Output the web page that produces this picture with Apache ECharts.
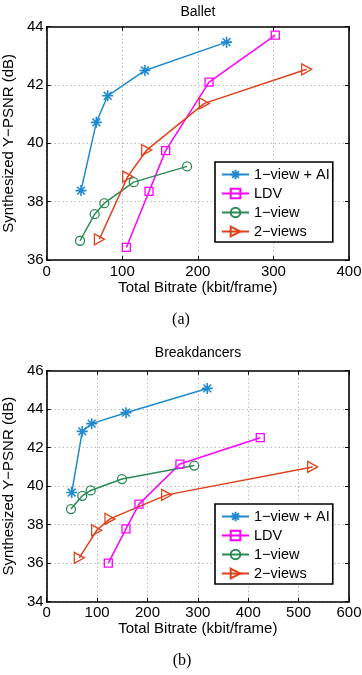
<!DOCTYPE html>
<html>
<head>
<meta charset="utf-8">
<script src="https://cdn.jsdelivr.net/npm/echarts@6/dist/echarts.min.js"></script>
<style>
html,body{margin:0;padding:0;background:#fff;}
#c{width:362px;height:675px;}
</style>
</head>
<body>
<div id="c"></div>
<script>
// ---- Data ----
const seriesNames = ['1\u2212view + AI', 'LDV', '1\u2212view', '2\u2212views'];

// Ballet: [bitrate, PSNR]
const balletAI    = [[45.4,38.38],[65.7,40.72],[80.7,41.63],[130,42.5],[238,43.47]];
const balletLDV   = [[105.4,36.43],[135.4,38.35],[157.4,39.75],[214.8,42.1],[302.5,43.71]];
const ballet1v    = [[44.1,36.66],[63.5,37.57],[76.3,37.95],[115.1,38.67],[185.7,39.21]];
const ballet2v    = [[69.7,36.71],[107.2,38.86],[132.3,39.77],[208.6,41.37],[344,42.54]];

// Breakdancers
const breakAI     = [[49.6,39.67],[70.6,42.85],[89.3,43.25],[157.4,43.82],[318.7,45.08]];
const breakLDV    = [[122.3,36.0],[157.4,37.78],[183.2,39.07],[264.5,41.15],[423.9,42.52]];
const break1v     = [[48.2,38.81],[70.6,39.5],[87.3,39.78],[149.4,40.37],[292.9,41.07]];
const break2v     = [[64.7,36.28],[99.2,37.71],[125.6,38.3],[238.1,39.55],[527.9,41.0]];

const balletX = {min:0, max:400, interval:100};
const balletY = {min:36, max:44, interval:2};
const breakX  = {min:0, max:600, interval:100};
const breakY  = {min:34, max:46, interval:2};

// ---- Styles ----
const FONT = 'Liberation Sans';
const FS = 15;
const colors = ['#1f8ad0', '#ff00ff', '#2b8a55', '#e0401a'];
const ASTER = 'path://M0,-10L0,10M-10,0L10,0M-7.07,-7.07L7.07,7.07M-7.07,7.07L7.07,-7.07';
const TRI = 'path://M0,0L18,10L0,20Z';
const symbols = [ASTER, 'rect', 'circle', TRI];
const symSizes = [11, 8, 9, [10, 11]];

function mkSeries(name, idx, data, axisIdx) {
  return {
    type: 'line', name: name, data: data,
    xAxisIndex: axisIdx, yAxisIndex: axisIdx,
    symbol: symbols[idx], symbolSize: symSizes[idx],
    showAllSymbol: true,
    lineStyle: {color: colors[idx], width: 1.5},
    itemStyle: {color: 'rgba(255,255,255,0)', borderColor: colors[idx], borderWidth: idx === 0 ? 1.6 : 1.3},
    emphasis: {disabled: true},
    animation: false, z: 3
  };
}

function mkAxes(gridIndex, xr, yr) {
  const tick = {show: true, inside: true, length: 4, lineStyle: {color: '#000', width: 1}};
  const line = {show: true, onZero: false, lineStyle: {color: '#000', width: 1.6}};
  const lab = {color: '#000', fontSize: FS, fontFamily: FONT};
  const xs = [
    {type: 'value', gridIndex, position: 'bottom', min: xr.min, max: xr.max, interval: xr.interval,
     axisLine: line, axisTick: tick,
     axisLabel: Object.assign({margin: 4, showMinLabel: true, showMaxLabel: true}, lab),
     splitLine: {show: true, lineStyle: {color: '#999', type: [1, 3], width: 1}},
     name: 'Total Bitrate (kbit/frame)', nameLocation: 'middle', nameGap: 18,
     nameTextStyle: {color: '#000', fontSize: FS, fontFamily: FONT}},
    {type: 'value', gridIndex, position: 'top', min: xr.min, max: xr.max, interval: xr.interval,
     axisLine: line, axisTick: tick, axisLabel: {show: false}, splitLine: {show: false}}
  ];
  const ys = [
    {type: 'value', gridIndex, position: 'left', min: yr.min, max: yr.max, interval: yr.interval,
     axisLine: line, axisTick: tick,
     axisLabel: Object.assign({margin: 3, showMinLabel: true, showMaxLabel: true}, lab),
     splitLine: {show: true, lineStyle: {color: '#999', type: [1, 3], width: 1}},
     name: 'Synthesized Y\u2212PSNR (dB)', nameLocation: 'middle', nameGap: 24,
     nameTextStyle: {color: '#000', fontSize: FS, fontFamily: FONT}},
    {type: 'value', gridIndex, position: 'right', min: yr.min, max: yr.max, interval: yr.interval,
     axisLine: line, axisTick: tick, axisLabel: {show: false}, splitLine: {show: false}}
  ];
  return {xs, ys};
}

const a = mkAxes(0, balletX, balletY);
const b = mkAxes(1, breakX, breakY);

const seriesA = [balletAI, balletLDV, ballet1v, ballet2v].map((d, i) => mkSeries(seriesNames[i], i, d, 0));
const seriesB = [breakAI, breakLDV, break1v, break2v].map((d, i) => mkSeries(seriesNames[i], i, d, 2));

function mkLegend(top) {
  return {
    left: 215, top: top, orient: 'vertical',
    data: seriesNames, selectedMode: false,
    itemWidth: 27, itemHeight: 12, itemGap: 4,
    padding: [5, 3, 3, 6],
    backgroundColor: '#fff', borderColor: '#000', borderWidth: 1.6,
    textStyle: {color: '#000', fontSize: 14.5, fontFamily: FONT, lineHeight: 14},
    z: 10
  };
}

const txt = (t, x, y, size, fam) => ({
  type: 'text', x: x, y: y,
  style: {text: t, fill: '#000', fontSize: size, fontFamily: fam, align: 'center', verticalAlign: 'middle'}
});

const chart = echarts.init(document.getElementById('c'), null, {renderer: 'canvas'});
chart.setOption({
  animation: false,
  backgroundColor: '#fff',
  grid: [
    {left: 46.7, top: 26.7, width: 302.3, height: 233.3, containLabel: false, outerBoundsMode: 'none'},
    {left: 46.7, top: 370.7, width: 302.3, height: 231, containLabel: false, outerBoundsMode: 'none'}
  ],
  xAxis: [a.xs[0], a.xs[1], b.xs[0], b.xs[1]],
  yAxis: [a.ys[0], a.ys[1], b.ys[0], b.ys[1]],
  legend: [mkLegend(162), mkLegend(504)],
  series: seriesA.concat(seriesB),
  graphic: [
    txt('Ballet', 198, 12, 14, FONT),
    txt('Breakdancers', 198, 353, 14, FONT),
    txt('(a)', 181, 320, 16, 'Liberation Serif'),
    txt('(b)', 182, 661, 16, 'Liberation Serif')
  ]
});
</script>
</body>
</html>
